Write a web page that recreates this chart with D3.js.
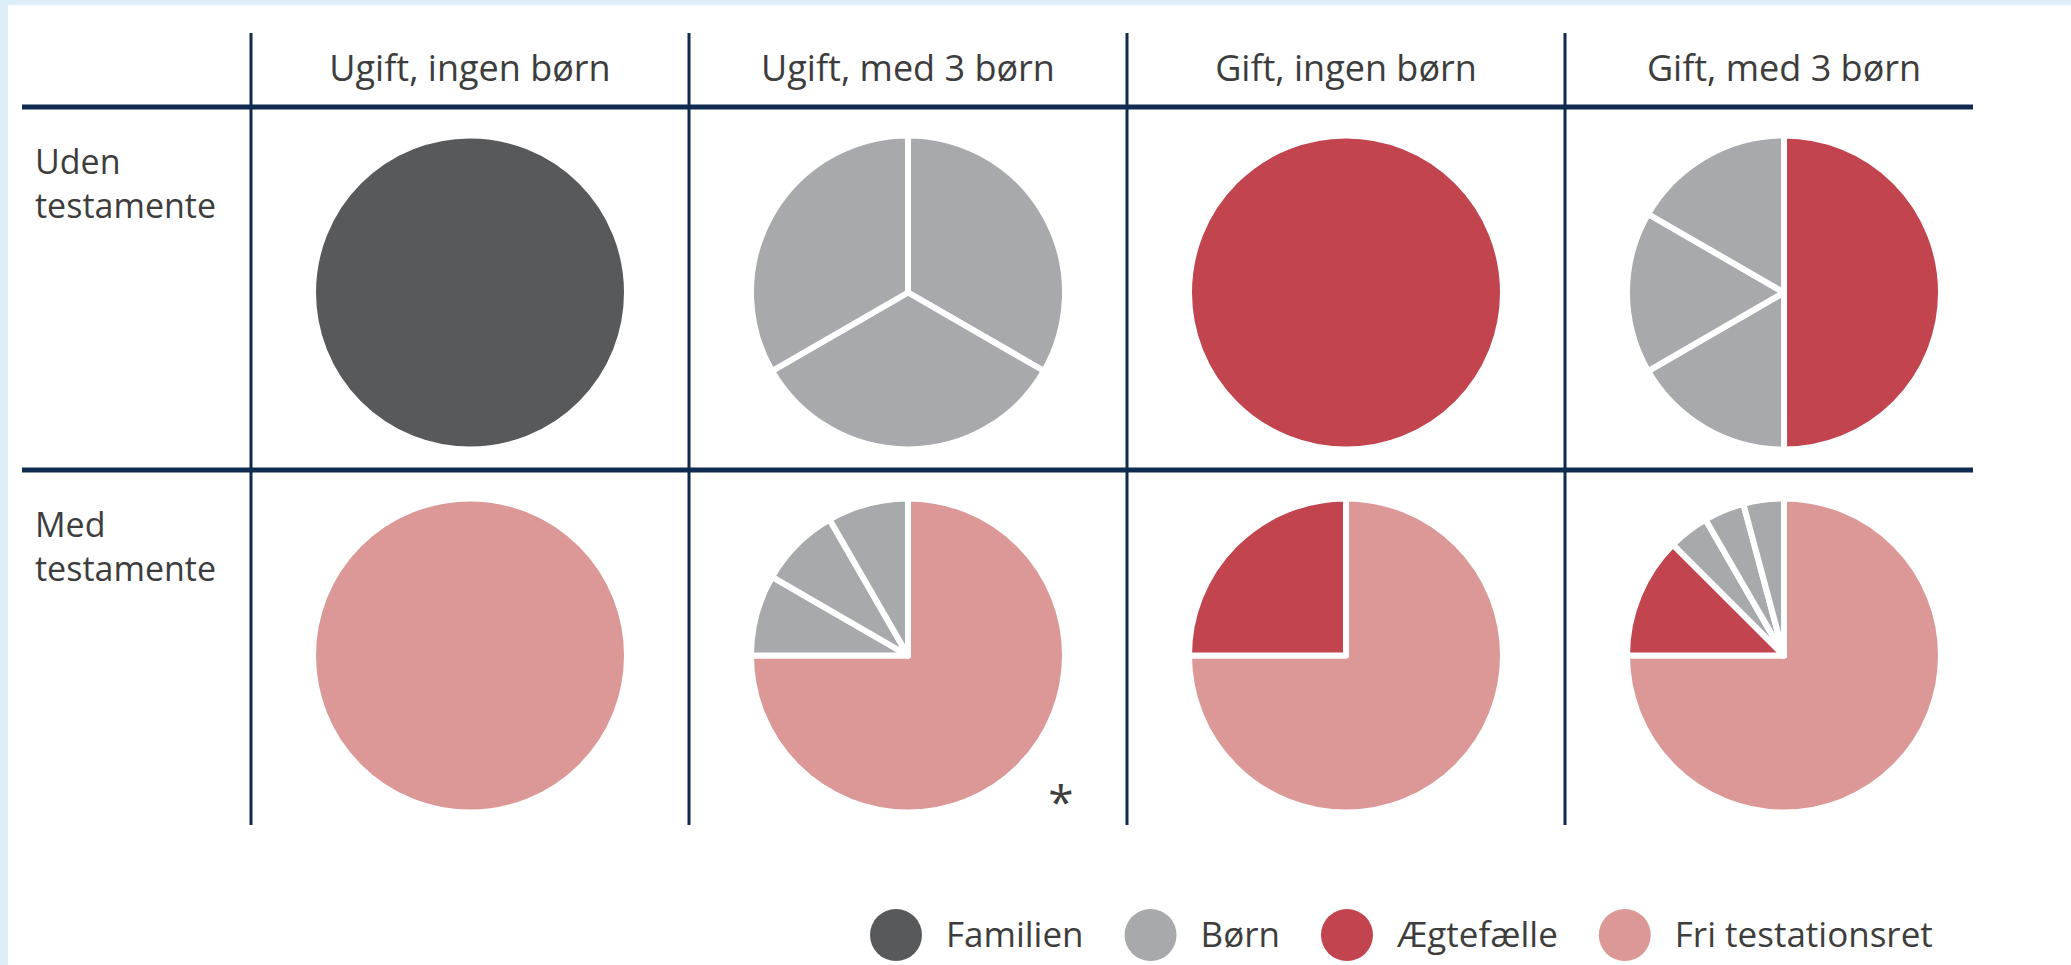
<!DOCTYPE html>
<html>
<head>
<meta charset="utf-8">
<script src="https://cdn.jsdelivr.net/npm/d3@7"></script>
<style>
  html, body { margin: 0; padding: 0; background: #ffffff; }
  svg { display: block; }
  text { font-family: "Open Sans", "Lato", sans-serif; fill: #3d3d3d; }
</style>
</head>
<body>
<div id="chart"></div>
<script>
(function(){

/* ---------- DATA ---------- */
const columns = ["Ugift, ingen børn", "Ugift, med 3 børn", "Gift, ingen børn", "Gift, med 3 børn"];
const rowLabels = [["Uden", "testamente"], ["Med", "testamente"]];
const categories = ["Familien", "Børn", "Ægtefælle", "Fri testationsret"];
const catColors = ["#58595b", "#a7a9ac", "#c1444f", "#db9896"];

// shares in percent, slices in clockwise order from 12 o'clock
const udenTestamente = [
    [{cat:"Familien", value:100}],
    [{cat:"Børn", value:33.33}, {cat:"Børn", value:33.33}, {cat:"Børn", value:33.33}],
    [{cat:"Ægtefælle", value:100}],
    [{cat:"Ægtefælle", value:50}, {cat:"Børn", value:16.67}, {cat:"Børn", value:16.67}, {cat:"Børn", value:16.67}]
];
const medTestamente = [
    [{cat:"Fri testationsret", value:100}],
    [{cat:"Fri testationsret", value:75}, {cat:"Børn", value:8.33}, {cat:"Børn", value:8.33}, {cat:"Børn", value:8.33}],
    [{cat:"Fri testationsret", value:75}, {cat:"Ægtefælle", value:25}],
    [{cat:"Fri testationsret", value:75}, {cat:"Ægtefælle", value:12.5}, {cat:"Børn", value:4.17}, {cat:"Børn", value:4.17}, {cat:"Børn", value:4.17}]
];
const cells = [udenTestamente, medTestamente];
const footnoteCell = {row:1, col:1, text:"*"};

/* ---------- SVG ---------- */
const width = 2071, height = 965;

const svg = d3.select("#chart").append("svg")
    .attr("width", width)
    .attr("height", height);

// light blue frame (top / left)
svg.append("rect").attr("width", width).attr("height", height).attr("fill", "#deeef8");
svg.append("rect").attr("x", 8).attr("y", 5).attr("width", width - 8).attr("height", height - 5).attr("fill", "#ffffff");

/* ---------- SCALES ---------- */
const x = d3.scaleBand().domain(d3.range(columns.length)).range([251, 2003]);
const y = d3.scaleBand().domain(d3.range(rowLabels.length)).range([107, 833]);
const color = d3.scaleOrdinal().domain(categories).range(catColors);

const gridLeft = 22, gridRight = 1973, gridTop = 33, gridBottom = 825;
const radius = 157;

/* ---------- GRID ---------- */
const grid = svg.append("g").attr("class", "grid");

grid.selectAll("line.h")
    .data(d3.range(rowLabels.length))
    .enter().append("line")
    .attr("class", "h")
    .attr("x1", gridLeft).attr("x2", gridRight)
    .attr("y1", d => y(d)).attr("y2", d => y(d))
    .attr("stroke", "#0f2b4f").attr("stroke-width", 5);

grid.selectAll("line.v")
    .data(d3.range(columns.length))
    .enter().append("line")
    .attr("class", "v")
    .attr("x1", d => x(d)).attr("x2", d => x(d))
    .attr("y1", gridTop).attr("y2", gridBottom)
    .attr("stroke", "#0f2b4f").attr("stroke-width", 3);

/* ---------- HEADERS ---------- */
svg.append("g").selectAll("text")
    .data(columns)
    .enter().append("text")
    .attr("x", (d, i) => x(i) + x.bandwidth() / 2)
    .attr("y", 81)
    .attr("text-anchor", "middle")
    .style("font-size", "36px")
    .text(d => d);

const rowText = svg.append("g").selectAll("text")
    .data(rowLabels)
    .enter().append("text")
    .attr("x", 35)
    .attr("y", (d, i) => y(i) + 67)
    .style("font-size", "34px");

rowText.selectAll("tspan")
    .data(d => d)
    .enter().append("tspan")
    .attr("x", 35)
    .attr("dy", (d, i) => i === 0 ? 0 : 44)
    .text(d => d);

/* ---------- PIES ---------- */
const pie = d3.pie().sort(null).value(d => d.value);
const arc = d3.arc().innerRadius(0).outerRadius(radius);

cells.forEach((row, r) => {
    row.forEach((slices, c) => {
        const cx = x(c) + x.bandwidth() / 2;
        const cy = y(r) + y.bandwidth() / 2 + 4;
        const g = svg.append("g")
            .attr("class", "pie")
            .attr("transform", `translate(${cx},${cy})`);
        g.selectAll("path")
            .data(pie(slices))
            .enter().append("path")
            .attr("d", arc)
            .attr("fill", d => color(d.data.cat))
            .attr("stroke", "#ffffff")
            .attr("stroke-width", 6)
            .attr("stroke-linejoin", "round");
    });
});

// footnote marker
svg.append("text")
    .attr("x", x(footnoteCell.col) + x.bandwidth() / 2 + radius - 4)
    .attr("y", y(footnoteCell.row) + y.bandwidth() / 2 + radius + 10)
    .attr("text-anchor", "middle")
    .style("font-size", "46px")
    .text(footnoteCell.text);

/* ---------- LEGEND ---------- */
const legend = svg.append("g").attr("class", "legend");
const legendY = 935, legendR = 26;
let lx = 870;
categories.forEach((cat, i) => {
    legend.append("circle")
        .attr("cx", lx + legendR).attr("cy", legendY)
        .attr("r", legendR)
        .attr("fill", color(cat));
    const t = legend.append("text")
        .attr("x", lx + 76)
        .attr("y", legendY + 12)
        .style("font-size", "35px")
        .text(cat);
    lx += 76 + t.node().getComputedTextLength() + 41;
});

})();
</script>
</body>
</html>
